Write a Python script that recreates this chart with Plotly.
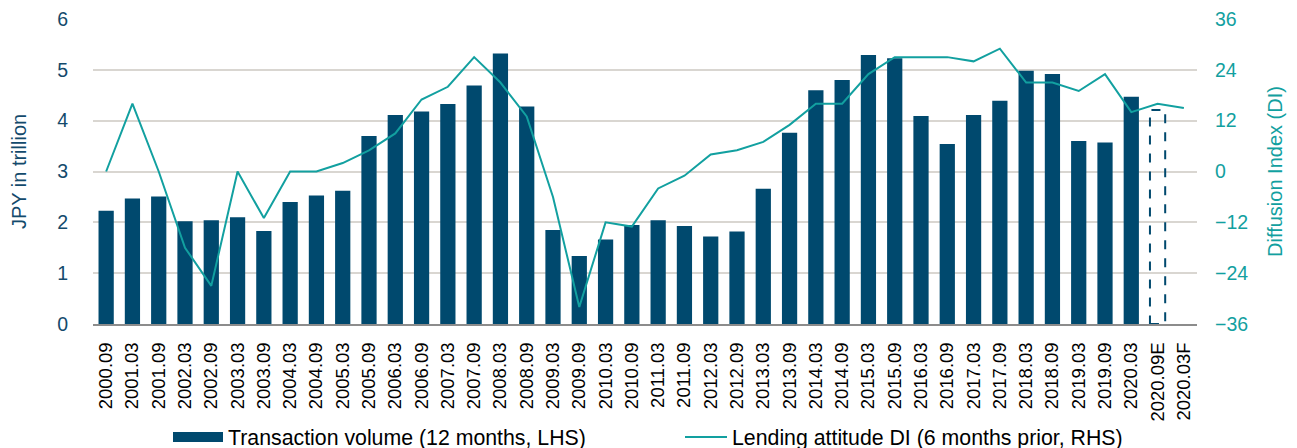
import plotly.graph_objects as go

categories = ["2000.09","2001.03","2001.09","2002.03","2002.09","2003.03","2003.09","2004.03","2004.09",
              "2005.03","2005.09","2006.03","2006.09","2007.03","2007.09","2008.03","2008.09","2009.03",
              "2009.09","2010.03","2010.09","2011.03","2011.09","2012.03","2012.09","2013.03","2013.09",
              "2014.03","2014.09","2015.03","2015.09","2016.03","2016.09","2017.03","2017.09","2018.03",
              "2018.09","2019.03","2019.09","2020.03","2020.09E","2020.03F"]

transaction_volume = [2.23,2.47,2.51,2.02,2.04,2.10,1.83,2.40,2.53,2.62,3.70,4.11,4.18,4.33,4.69,5.32,4.28,1.85,
                      1.34,1.66,1.95,2.04,1.93,1.72,1.82,2.66,3.76,4.60,4.80,5.29,5.23,4.09,3.54,4.11,4.39,4.98,
                      4.92,3.60,3.57,4.47,None,None]

estimate_category = "2020.09E"
estimate_volume = 4.21

lending_di = [0,16,0,-18,-27,0,-11,0,0,2,5,9,17,20,27,21,13,-6,-32,-12,-13,-4,-1,4,5,7,11,16,16,23,
              27,27,27,26,29,21,21,19,23,14,16,15]

BAR = "#00496e"
TEAL = "#12a0a0"
LEFT_C = "#134a6c"
FONT = "Liberation Sans, Arial, sans-serif"
BAR_W = 0.58

fig = go.Figure()
fig.add_trace(go.Bar(x=categories, y=transaction_volume, showlegend=False,
                     marker=dict(color=BAR, line=dict(width=0)), width=BAR_W, yaxis="y"))
# legend swatch (wide bar-like rectangle) for the bar series
fig.add_trace(go.Scatter(x=[None], y=[None], name="Transaction volume (12 months, LHS)", mode="lines",
                         line=dict(color=BAR, width=10), yaxis="y", showlegend=True, legend="legend"))
fig.add_trace(go.Scatter(x=categories, y=lending_di, name="Lending attitude DI (6 months prior, RHS)",
                         mode="lines", line=dict(color=TEAL, width=2), yaxis="y2", legend="legend2"))

idx = categories.index(estimate_category)
fig.add_shape(type="rect", xref="x", yref="y", x0=idx - BAR_W / 2, x1=idx + BAR_W / 2, y0=0, y1=estimate_volume,
              line=dict(color=BAR, width=2, dash="dash"), fillcolor="rgba(0,0,0,0)", layer="above")

LEG_FONT = dict(size=21.3, color="#000000")
fig.update_layout(
    width=1297, height=448,
    margin=dict(l=93, r=100, t=19, b=124),
    paper_bgcolor="white", plot_bgcolor="white",
    font=dict(family=FONT, size=20, color="#000000"),
    showlegend=True,
    legend=dict(orientation="h", xref="container", x=168 / 1297, xanchor="left",
                yref="container", y=0.024, yanchor="middle", font=LEG_FONT, itemwidth=50),
    legend2=dict(orientation="h", xref="container", x=680 / 1297, xanchor="left",
                 yref="container", y=0.024, yanchor="middle", font=LEG_FONT, itemwidth=42),
    xaxis=dict(type="category", tickangle=-90, tickfont=dict(size=18.5, color="#000000"),
               showgrid=False, showline=True, linecolor="#8c8c8c", linewidth=2, ticks="",
               ticklabelstandoff=9, range=[-0.5, len(categories) - 0.5], automargin=False),
    yaxis=dict(range=[0, 6], dtick=1, showgrid=True, gridcolor="#d9d6d1", gridwidth=1.5,
               zeroline=False, tickfont=dict(size=19.5, color=LEFT_C), ticklabelstandoff=24, automargin=False,
               title=dict(text="JPY in trillion", font=dict(size=20, color=LEFT_C), standoff=25)),
    yaxis2=dict(range=[-36, 36], dtick=12, overlaying="y", side="right", showgrid=False, zeroline=False,
                tickfont=dict(size=19.5, color=TEAL), ticklabelstandoff=17, automargin=False,
                title=dict(text="Diffusion Index (DI)", font=dict(size=20, color=TEAL), standoff=20)),
    bargap=0.42,
)

fig.write_html("out.html", config={"displayModeBar": False},
               post_script="document.body.style.margin='0';document.body.style.overflow='hidden';")
